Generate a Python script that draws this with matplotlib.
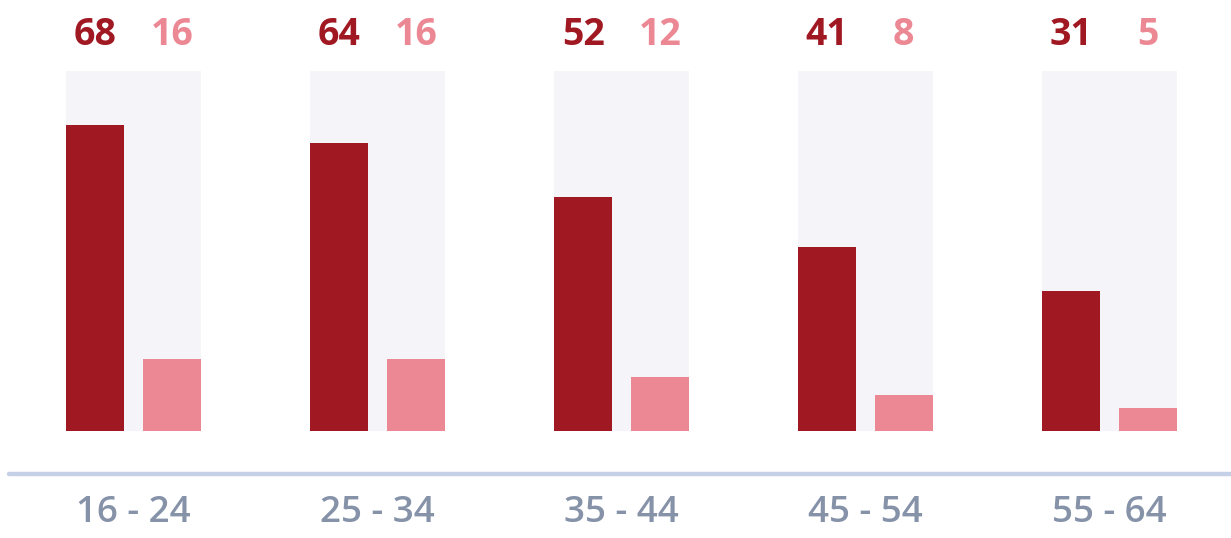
import numpy as np
import matplotlib
matplotlib.use("Agg")
import matplotlib.pyplot as plt

plt.rcParams['font.family'] = ['Open Sans', 'DejaVu Sans']

# data
age_groups = ['16 - 24', '25 - 34', '35 - 44', '45 - 54', '55 - 64']
series_a = [68, 64, 52, 41, 31]
series_b = [16, 16, 12, 8, 5]
bg_max = 80

DARK = '#A01822'
LIGHT = '#EC8794'
BG = '#F4F4F9'
AXIS = '#C5D0E6'
LABEL = '#8592A8'

fig = plt.figure(figsize=(12.31, 5.38), dpi=100)
ax = fig.add_axes([0, 0, 1, 1])
ax.set_xlim(-0.547, 4.498)
ax.set_ylim(-23.78, 95.78)
ax.axis('off')

x = np.arange(len(age_groups))
bw = 0.238
off = 0.157

# background panels
ax.bar(x, [bg_max] * len(x), width=0.553, color=BG, zorder=0)
ax.bar(x - off, series_a, width=bw, color=DARK, zorder=2)
ax.bar(x + off, series_b, width=bw, color=LIGHT, zorder=2)

for xi, a, b in zip(x, series_a, series_b):
    ax.text(xi - off, 88.0, str(a), ha='center', va='center',
            fontsize=27, fontweight='bold', color=DARK)
    ax.text(xi + off, 88.0, str(b), ha='center', va='center',
            fontsize=27, fontweight='bold', color=LIGHT)

# baseline
ax.plot([-0.51, 4.6], [-9.56, -9.56], color=AXIS, linewidth=3.2,
        solid_capstyle='round', zorder=1)

for xi, lab in zip(x, age_groups):
    ax.text(xi, -18.3, lab, ha='center', va='center', fontsize=26.5,
            color=LABEL, fontweight='semibold')

fig.savefig('out.png', dpi=100)
